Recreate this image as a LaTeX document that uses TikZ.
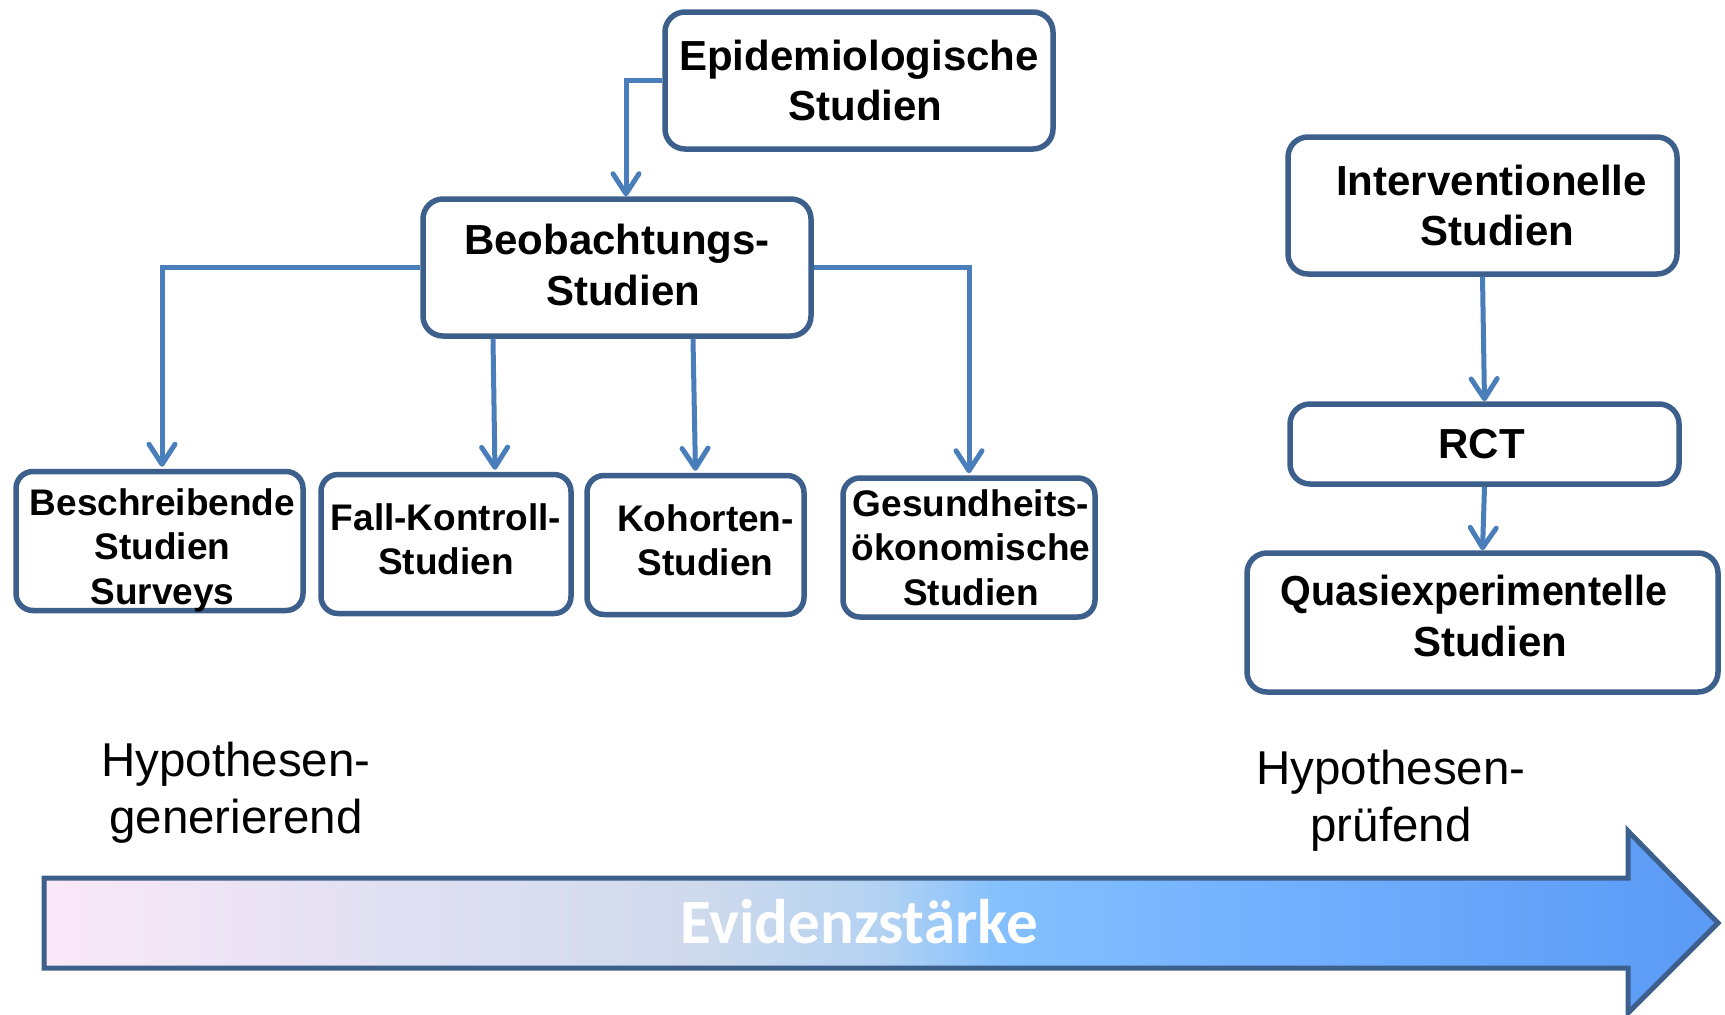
\documentclass[tikz,border=0pt]{standalone}
\usepackage{fontspec}
\usepackage{graphicx}
\setmainfont{Liberation Sans}
\newfontfamily\carl{Carlito}
\usetikzlibrary{arrows.meta,calc}
\definecolor{boxc}{HTML}{3D5F8C}
\definecolor{connc}{HTML}{4A7EBB}
\definecolor{g1}{HTML}{FAE8F7}
\definecolor{g2}{HTML}{E0E0F2}
\definecolor{g3}{HTML}{CFDAEC}
\definecolor{g4}{HTML}{B3D2F2}
\definecolor{g5}{HTML}{84C0FD}
\definecolor{g6}{HTML}{74B1FF}
\definecolor{g7}{HTML}{5A9AF5}
\pgfdeclarehorizontalshading{evid}{100bp}{color(0bp)=(g1); color(25bp)=(g1); color(35.5bp)=(g2); color(44.5bp)=(g3); color(50bp)=(g4); color(53.5bp)=(g5); color(61bp)=(g6); color(75bp)=(g7); color(100bp)=(g7)}
\tikzset{
  bigbox/.style={draw=boxc, line width=5.5pt, rounded corners=20pt, fill=white, inner sep=0pt},
  smallbox/.style={draw=boxc, line width=5.5pt, rounded corners=17pt, fill=white, inner sep=0pt,
    minimum width=#1, minimum height=139pt},
  bigtext/.style={align=center, inner sep=0pt, font=\bfseries\fontsize{42}{50.5}\selectfont},
  smalltext/.style={align=center, inner sep=0pt, font=\bfseries\fontsize{37}{44.5}\selectfont},
  conn/.style={draw=connc, line width=5pt, -{Straight Barb[length=20pt,width=26pt,round]}},
  hyp/.style={align=center, font=\fontsize{47.5}{57}\selectfont},
}
\begin{document}
\begin{tikzpicture}[x=1pt, y=-1pt]
\useasboundingbox (0,0) rectangle (1725,1015);
% big arrow
\draw[draw=boxc, line width=5pt, shade, shading=evid]
  (44,878) -- (1628,878) -- (1628,831) -- (1718,923) -- (1628,1013) -- (1628,968) -- (44,968) -- cycle;
\node[font=\carl\bfseries\fontsize{63}{72}\selectfont, text=white, anchor=base] (evid) at (859,943) {Evidenzstärke};
% boxes
\node[bigbox, minimum width=388pt, minimum height=137pt] (epi) at (859,80.5) {};
\node[bigbox, minimum width=388pt, minimum height=137pt] (beob) at (617,267.5) {};
\node[bigbox, minimum width=389pt, minimum height=137pt] (int) at (1482.5,205.5) {};
\node[bigbox, minimum width=389pt, minimum height=80pt] (rct) at (1484.5,444) {};
\node[bigbox, minimum width=471pt, minimum height=139pt] (quasi) at (1482.5,622.5) {};
\node[smallbox=287pt] (besch) at (159.5,541) {};
\node[smallbox=250pt] (fk) at (446,544) {};
\node[smallbox=217pt] (koh) at (695.5,545) {};
\node[smallbox=252pt] (ges) at (969,547.5) {};
% box texts
\node[bigtext] (epi-t) at (epi.center) {Epidemiologische\\\hspace*{13pt}Studien};
\node[bigtext] (beob-t) at ($(beob.center)+(0,-2.5)$) {Beobachtungs-\\\hspace*{12pt}Studien};
\node[bigtext] (int-t) at (int.center) {\hspace*{18pt}Interventionelle\\\hspace*{30pt}Studien};
\node[bigtext] (rct-t) at ($(rct.center)+(-3,0)$) {RCT};
\node[bigtext] (quasi-t) at ($(quasi.center)+(0,-6.5)$) {\scalebox{0.94}[1]{Quasiexperimentelle}\hspace*{17pt}\\\hspace*{15pt}Studien};
\node[smalltext] (besch-t) at ($(besch.center)+(3,9)$) {Beschreibende\\Studien\\Surveys};
\node[smalltext] (fk-t) at ($(fk.center)+(0,-4.5)$) {Fall-Kontroll-\\Studien};
\node[smalltext] (koh-t) at ($(koh.center)+(0,-4.5)$) {\hspace*{20pt}Kohorten-\\\hspace*{20pt}Studien};
\node[smalltext] (ges-t) at ($(ges.center)+(2,0)$) {Gesundheits-\\ökonomische\\Studien};
% side texts
\node[hyp] (hgen) at (236,793) {Hypothesen-\\generierend};
\node[hyp] (hpruef) at (1391,800.5) {Hypothesen-\\prüfend};
% connectors
\draw[conn] (epi.west) -| ([xshift=9pt]beob.north);
\draw[conn, shorten >=2pt] (beob.west) -| ([xshift=2.5pt]besch.north);
\draw[conn, shorten >=2pt] ([xshift=-124pt]beob.south) -- ([xshift=49pt]fk.north);
\draw[conn, shorten >=2pt] ([xshift=76pt]beob.south) -- (koh.north);
\draw[conn, shorten >=2pt] (beob.east) -| (ges.north);
\draw[conn] (int.south) -- (rct.north);
\draw[conn] (rct.south) -- (quasi.north);
\end{tikzpicture}
\end{document}
